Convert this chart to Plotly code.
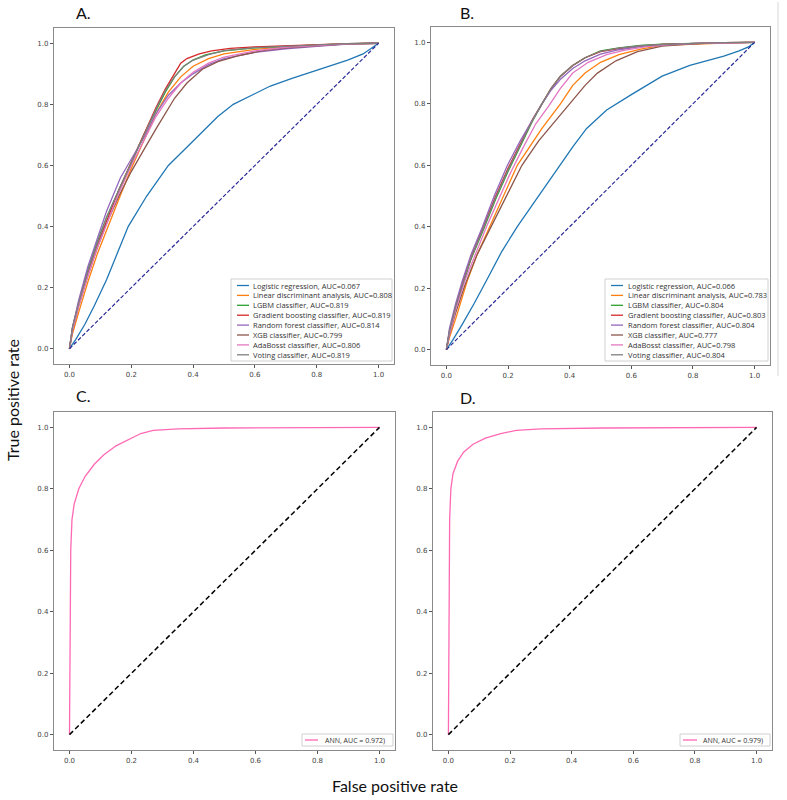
import plotly.graph_objects as go

# ---------------- data ----------------
PANEL_LABELS = ["A.", "B.", "C.", "D."]
TICKS = [0.0, 0.2, 0.4, 0.6, 0.8, 1.0]

MODEL_NAMES = ["Logistic regression", "Linear discriminant analysis", "LGBM classifier",
               "Gradient boosting classifier", "Random forest classifier", "XGB classifier",
               "AdaBosst classifier", "Voting classifier"]
AUC_A = ["0.067", "0.808", "0.819", "0.819", "0.814", "0.799", "0.806", "0.819"]
AUC_B = ["0.066", "0.783", "0.804", "0.803", "0.804", "0.777", "0.798", "0.804"]
MODEL_COLORS = ["#1f77b4", "#ff7f0e", "#2ca02c", "#d62728", "#9467bd", "#8c564b", "#e377c2", "#7f7f7f"]

# Panel A ROC curves
A_LR_FPR = [0, 0.02, 0.05, 0.08, 0.12, 0.155, 0.19, 0.25, 0.32, 0.37, 0.42, 0.48, 0.53, 0.59, 0.65, 0.72, 0.78, 0.85, 0.9, 0.95, 0.98, 1.0]
A_LR_TPR = [0, 0.03, 0.08, 0.14, 0.226, 0.31, 0.40, 0.50, 0.60, 0.65, 0.70, 0.76, 0.80, 0.83, 0.86, 0.885, 0.905, 0.93, 0.945, 0.965, 0.985, 1.0]
A_LDA_FPR = [0, 0.01, 0.03, 0.06, 0.09, 0.12, 0.16, 0.2, 0.24, 0.28, 0.32, 0.36, 0.4, 0.45, 0.5, 0.6, 0.7, 0.8, 0.9, 1.0]
A_LDA_TPR = [0, 0.05, 0.12, 0.22, 0.31, 0.39, 0.49, 0.59, 0.68, 0.77, 0.84, 0.89, 0.925, 0.95, 0.965, 0.98, 0.988, 0.994, 0.998, 1.0]
A_LGBM_FPR = [0, 0.01, 0.03, 0.06, 0.09, 0.12, 0.16, 0.2, 0.24, 0.28, 0.31, 0.34, 0.37, 0.4, 0.44, 0.5, 0.6, 0.7, 0.8, 0.9, 1.0]
A_LGBM_TPR = [0, 0.07, 0.15, 0.26, 0.35, 0.43, 0.52, 0.61, 0.70, 0.78, 0.84, 0.89, 0.925, 0.945, 0.962, 0.975, 0.985, 0.99, 0.995, 0.999, 1.0]
A_GB_FPR = [0, 0.01, 0.03, 0.06, 0.09, 0.12, 0.16, 0.2, 0.24, 0.28, 0.31, 0.34, 0.36, 0.38, 0.42, 0.46, 0.52, 0.6, 0.7, 0.8, 0.9, 1.0]
A_GB_TPR = [0, 0.07, 0.15, 0.25, 0.34, 0.42, 0.52, 0.61, 0.70, 0.79, 0.85, 0.90, 0.935, 0.95, 0.965, 0.975, 0.983, 0.988, 0.992, 0.996, 0.999, 1.0]
A_RF_FPR = [0, 0.01, 0.03, 0.06, 0.09, 0.12, 0.165, 0.2, 0.24, 0.28, 0.32, 0.36, 0.4, 0.45, 0.5, 0.6, 0.7, 0.8, 0.9, 1.0]
A_RF_TPR = [0, 0.07, 0.16, 0.27, 0.36, 0.45, 0.56, 0.62, 0.69, 0.77, 0.83, 0.87, 0.90, 0.93, 0.95, 0.97, 0.982, 0.99, 0.997, 1.0]
A_XGB_FPR = [0, 0.01, 0.03, 0.06, 0.09, 0.12, 0.16, 0.2, 0.24, 0.28, 0.34, 0.38, 0.43, 0.48, 0.55, 0.62, 0.7, 0.8, 0.9, 1.0]
A_XGB_TPR = [0, 0.06, 0.14, 0.24, 0.33, 0.41, 0.50, 0.58, 0.65, 0.72, 0.82, 0.87, 0.915, 0.94, 0.96, 0.975, 0.985, 0.992, 0.998, 1.0]
A_ADA_FPR = [0, 0.01, 0.03, 0.06, 0.09, 0.12, 0.16, 0.2, 0.24, 0.28, 0.32, 0.36, 0.4, 0.45, 0.5, 0.6, 0.7, 0.8, 0.9, 1.0]
A_ADA_TPR = [0, 0.06, 0.14, 0.24, 0.33, 0.41, 0.51, 0.60, 0.68, 0.76, 0.82, 0.87, 0.905, 0.935, 0.955, 0.975, 0.987, 0.993, 0.998, 1.0]
A_VOTE_FPR = [0, 0.01, 0.03, 0.06, 0.09, 0.12, 0.16, 0.2, 0.24, 0.28, 0.31, 0.34, 0.37, 0.4, 0.45, 0.5, 0.6, 0.7, 0.8, 0.9, 1.0]
A_VOTE_TPR = [0, 0.07, 0.15, 0.255, 0.345, 0.43, 0.52, 0.61, 0.70, 0.785, 0.845, 0.89, 0.925, 0.945, 0.963, 0.976, 0.986, 0.991, 0.996, 0.999, 1.0]

# Panel B ROC curves
B_LR_FPR = [0, 0.02, 0.05, 0.09, 0.13, 0.18, 0.23, 0.3, 0.37, 0.41, 0.455, 0.52, 0.6, 0.7, 0.79, 0.85, 0.9, 0.95, 0.98, 1.0]
B_LR_TPR = [0, 0.03, 0.08, 0.15, 0.225, 0.32, 0.40, 0.50, 0.60, 0.66, 0.72, 0.78, 0.83, 0.89, 0.925, 0.94, 0.955, 0.972, 0.985, 1.0]
B_LDA_FPR = [0, 0.01, 0.03, 0.068, 0.1, 0.14, 0.185, 0.23, 0.27, 0.31, 0.37, 0.41, 0.45, 0.5, 0.56, 0.63, 0.7, 0.8, 0.9, 1.0]
B_LDA_TPR = [0, 0.04, 0.10, 0.225, 0.31, 0.40, 0.50, 0.60, 0.66, 0.72, 0.80, 0.86, 0.90, 0.935, 0.96, 0.978, 0.99, 0.995, 0.998, 1.0]
B_LGBM_FPR = [0, 0.01, 0.03, 0.055, 0.08, 0.12, 0.16, 0.2, 0.24, 0.28, 0.31, 0.34, 0.37, 0.41, 0.45, 0.5, 0.56, 0.63, 0.7, 0.8, 0.9, 1.0]
B_LGBM_TPR = [0, 0.06, 0.14, 0.22, 0.295, 0.39, 0.49, 0.58, 0.665, 0.745, 0.80, 0.85, 0.89, 0.925, 0.95, 0.972, 0.982, 0.99, 0.994, 0.997, 0.999, 1.0]
B_GB_FPR = [0, 0.01, 0.03, 0.055, 0.08, 0.12, 0.16, 0.2, 0.24, 0.28, 0.31, 0.34, 0.37, 0.41, 0.45, 0.5, 0.56, 0.63, 0.7, 0.8, 0.9, 1.0]
B_GB_TPR = [0, 0.06, 0.14, 0.225, 0.30, 0.40, 0.50, 0.59, 0.67, 0.75, 0.80, 0.85, 0.89, 0.925, 0.95, 0.97, 0.98, 0.988, 0.993, 0.997, 0.999, 1.0]
B_RF_FPR = [0, 0.01, 0.03, 0.052, 0.08, 0.117, 0.155, 0.198, 0.24, 0.28, 0.31, 0.34, 0.37, 0.41, 0.45, 0.5, 0.56, 0.63, 0.7, 0.8, 0.9, 1.0]
B_RF_TPR = [0, 0.07, 0.15, 0.225, 0.31, 0.40, 0.50, 0.60, 0.68, 0.75, 0.80, 0.845, 0.88, 0.915, 0.94, 0.962, 0.976, 0.986, 0.992, 0.997, 0.999, 1.0]
B_XGB_FPR = [0, 0.01, 0.03, 0.06, 0.1, 0.14, 0.19, 0.245, 0.3, 0.35, 0.4, 0.45, 0.49, 0.55, 0.62, 0.7, 0.8, 0.9, 1.0]
B_XGB_TPR = [0, 0.05, 0.12, 0.21, 0.31, 0.39, 0.49, 0.60, 0.68, 0.74, 0.80, 0.86, 0.90, 0.94, 0.97, 0.988, 0.995, 0.999, 1.0]
B_ADA_FPR = [0, 0.01, 0.03, 0.06, 0.09, 0.13, 0.17, 0.21, 0.25, 0.29, 0.33, 0.37, 0.41, 0.46, 0.52, 0.58, 0.65, 0.72, 0.8, 0.9, 1.0]
B_ADA_TPR = [0, 0.05, 0.13, 0.225, 0.30, 0.40, 0.49, 0.58, 0.66, 0.735, 0.79, 0.85, 0.90, 0.935, 0.96, 0.975, 0.986, 0.992, 0.996, 0.999, 1.0]
B_VOTE_FPR = [0, 0.01, 0.03, 0.055, 0.08, 0.12, 0.16, 0.2, 0.24, 0.28, 0.31, 0.34, 0.37, 0.41, 0.45, 0.5, 0.56, 0.63, 0.7, 0.8, 0.9, 1.0]
B_VOTE_TPR = [0, 0.06, 0.14, 0.222, 0.298, 0.395, 0.495, 0.585, 0.668, 0.748, 0.80, 0.85, 0.89, 0.925, 0.95, 0.971, 0.981, 0.989, 0.993, 0.997, 0.999, 1.0]

# Panels C and D: ANN
C_ANN_FPR = [0, 0.002, 0.004, 0.008, 0.015, 0.03, 0.05, 0.08, 0.11, 0.15, 0.19, 0.23, 0.27, 0.35, 0.5, 0.7, 1.0]
C_ANN_TPR = [0, 0.30, 0.60, 0.70, 0.75, 0.80, 0.84, 0.88, 0.91, 0.94, 0.96, 0.98, 0.99, 0.995, 0.998, 0.999, 1.0]
D_ANN_FPR = [0, 0.002, 0.004, 0.008, 0.015, 0.03, 0.05, 0.08, 0.12, 0.17, 0.22, 0.3, 0.5, 1.0]
D_ANN_TPR = [0, 0.40, 0.70, 0.80, 0.85, 0.89, 0.92, 0.945, 0.965, 0.98, 0.99, 0.995, 0.998, 1.0]
ANN_LABEL_C = "ANN, AUC = 0.972)"
ANN_LABEL_D = "ANN, AUC = 0.979)"
ANN_COLOR = "#ff69b4"

CHANCE = [0, 1]
X_TITLE = "False positive rate"
Y_TITLE = "True positive rate"

A_CURVES = [(A_LR_FPR, A_LR_TPR), (A_LDA_FPR, A_LDA_TPR), (A_LGBM_FPR, A_LGBM_TPR), (A_GB_FPR, A_GB_TPR),
            (A_RF_FPR, A_RF_TPR), (A_XGB_FPR, A_XGB_TPR), (A_ADA_FPR, A_ADA_TPR), (A_VOTE_FPR, A_VOTE_TPR)]
B_CURVES = [(B_LR_FPR, B_LR_TPR), (B_LDA_FPR, B_LDA_TPR), (B_LGBM_FPR, B_LGBM_TPR), (B_GB_FPR, B_GB_TPR),
            (B_RF_FPR, B_RF_TPR), (B_XGB_FPR, B_XGB_TPR), (B_ADA_FPR, B_ADA_TPR), (B_VOTE_FPR, B_VOTE_TPR)]

# ---------------- layout helpers ----------------
W, H = 787, 800
def px(x):
    return x / W
def py(y):
    return 1 - y / H

fig = go.Figure()

# axes frames (pixel boxes: left, top, right, bottom)
BOXES = [(54, 28, 394, 364), (431, 27, 770, 365), (54, 412, 395, 750), (433, 412, 772, 750)]

axis_common = dict(range=[-0.05, 1.05], tickvals=TICKS, tickformat=".1f", ticks="outside", ticklen=3,
                   tickcolor="#555", tickwidth=1, showgrid=False, zeroline=False, showline=True,
                   linecolor="#8a8a8a", linewidth=1.2, mirror=True,
                   tickfont=dict(family="DejaVu Sans", size=7, color="#444"))
layout_axes = {}
for i, (l, t, r, b) in enumerate(BOXES):
    n = "" if i == 0 else str(i + 1)
    layout_axes["xaxis" + n] = dict(domain=[px(l), px(r)], anchor="y" + n, **axis_common)
    layout_axes["yaxis" + n] = dict(domain=[py(b), py(t)], anchor="x" + n, **axis_common)

NAVY_DASH = dict(color="#2a2a9a", width=1.2, dash="4px,2px")
BLACK_DASH = dict(color="black", width=1.5, dash="5px,3px")

# traces
for k, (f, t) in enumerate(A_CURVES):
    fig.add_trace(go.Scatter(x=f, y=t, mode="lines", line=dict(color=MODEL_COLORS[k], width=1.3),
                             xaxis="x", yaxis="y", showlegend=False, hoverinfo="skip"))
fig.add_trace(go.Scatter(x=CHANCE, y=CHANCE, mode="lines", line=NAVY_DASH,
                         xaxis="x", yaxis="y", showlegend=False, hoverinfo="skip"))
for k, (f, t) in enumerate(B_CURVES):
    fig.add_trace(go.Scatter(x=f, y=t, mode="lines", line=dict(color=MODEL_COLORS[k], width=1.3),
                             xaxis="x2", yaxis="y2", showlegend=False, hoverinfo="skip"))
fig.add_trace(go.Scatter(x=CHANCE, y=CHANCE, mode="lines", line=NAVY_DASH,
                         xaxis="x2", yaxis="y2", showlegend=False, hoverinfo="skip"))
fig.add_trace(go.Scatter(x=C_ANN_FPR, y=C_ANN_TPR, mode="lines", line=dict(color=ANN_COLOR, width=1.3),
                         xaxis="x3", yaxis="y3", showlegend=False, hoverinfo="skip"))
fig.add_trace(go.Scatter(x=CHANCE, y=CHANCE, mode="lines", line=BLACK_DASH,
                         xaxis="x3", yaxis="y3", showlegend=False, hoverinfo="skip"))
fig.add_trace(go.Scatter(x=D_ANN_FPR, y=D_ANN_TPR, mode="lines", line=dict(color=ANN_COLOR, width=1.3),
                         xaxis="x4", yaxis="y4", showlegend=False, hoverinfo="skip"))
fig.add_trace(go.Scatter(x=CHANCE, y=CHANCE, mode="lines", line=BLACK_DASH,
                         xaxis="x4", yaxis="y4", showlegend=False, hoverinfo="skip"))

shapes = []
annotations = []

def add_legend(box, line_x0, line_x1, text_x, first_y, step, labels, colors, size):
    l, t, r, b = box
    shapes.append(dict(type="rect", xref="paper", yref="paper", x0=px(l), x1=px(r), y0=py(b), y1=py(t),
                       line=dict(color="#d0d0d0", width=1), fillcolor="rgba(255,255,255,0.85)", layer="above"))
    for i, (lab, c) in enumerate(zip(labels, colors)):
        yy = first_y + i * step
        shapes.append(dict(type="line", xref="paper", yref="paper", x0=px(line_x0), x1=px(line_x1),
                           y0=py(yy), y1=py(yy), line=dict(color=c, width=1.3), layer="above"))
        annotations.append(dict(text=lab, xref="paper", yref="paper", x=px(text_x), y=py(yy),
                                xanchor="left", yanchor="middle", showarrow=False,
                                font=dict(family="Open Sans", size=size, color="#333")))

labels_a = [f"{n}, AUC={a}" for n, a in zip(MODEL_NAMES, AUC_A)]
labels_b = [f"{n}, AUC={a}" for n, a in zip(MODEL_NAMES, AUC_B)]
add_legend((231, 279, 392, 361), 237, 249, 251, 285.5, 9.9, labels_a, MODEL_COLORS, 7.5)
add_legend((605, 279, 768, 361), 611, 623, 626, 285.5, 9.9, labels_b, MODEL_COLORS, 7.5)
add_legend((302, 734, 393, 746), 305, 318, 323, 740, 0, [ANN_LABEL_C], [ANN_COLOR], 7)
add_legend((680, 734, 770, 746), 683, 697, 701, 740, 0, [ANN_LABEL_D], [ANN_COLOR], 7)

# faint vertical rule at far right of panel B (as in the source image)
shapes.append(dict(type="line", xref="paper", yref="paper", x0=px(778), x1=px(778), y0=py(376), y1=py(2),
                   line=dict(color="#d8d8d8", width=1)))

# panel letters
for lab, (x, y) in zip(PANEL_LABELS, [(74, 13), (458, 13), (74, 395), (458, 397)]):
    annotations.append(dict(text=lab, xref="paper", yref="paper", x=px(x), y=py(y), xanchor="left",
                            yanchor="middle", showarrow=False, font=dict(family="Lato", size=16, color="#111")))

annotations.append(dict(text=Y_TITLE, xref="paper", yref="paper", x=px(12), y=py(400), textangle=-90,
                        xanchor="center", yanchor="middle", showarrow=False,
                        font=dict(family="Lato", size=16, color="#111")))
annotations.append(dict(text=X_TITLE, xref="paper", yref="paper", x=px(395), y=py(785),
                        xanchor="center", yanchor="middle", showarrow=False,
                        font=dict(family="Lato", size=16, color="#111")))

fig.update_layout(width=W, height=H, margin=dict(l=0, r=0, t=0, b=0), paper_bgcolor="white",
                  plot_bgcolor="white", shapes=shapes, annotations=annotations, showlegend=False,
                  **layout_axes)

fig.write_html("out.html", config={"displayModeBar": False},
               post_script="document.body.style.margin='0';document.body.style.padding='0';")
